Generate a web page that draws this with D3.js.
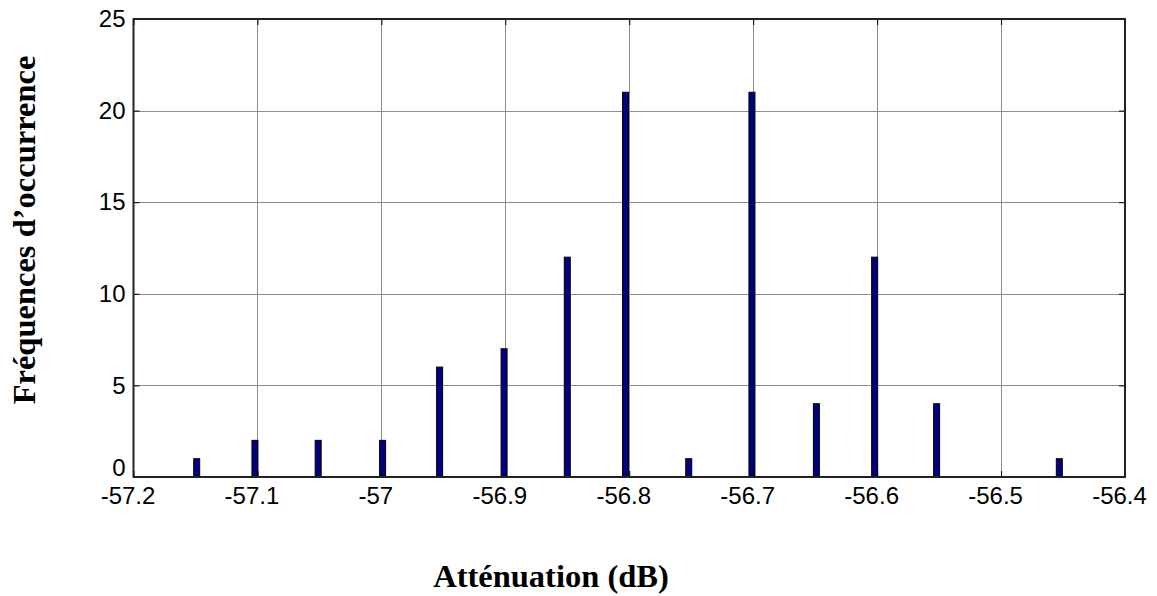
<!DOCTYPE html>
<html>
<head>
<meta charset="utf-8">
<script src="https://cdn.jsdelivr.net/npm/d3@7/dist/d3.min.js"></script>
<style>
  html, body { margin: 0; padding: 0; background: #fff; }
  svg { display: block; }
  .tick text { font-family: "Liberation Sans", Arial, sans-serif; font-size: 24px; fill: #000; }
  .title { font-family: "Liberation Serif", "Times New Roman", serif; font-weight: bold; font-size: 32.5px; fill: #000; }
</style>
</head>
<body>
<svg id="chart" width="1157" height="596"></svg>
<script>
// Histogram of attenuation values: bin centres (dB) and counts
const binCenters = [-57.149, -57.102, -57.051, -56.999, -56.953, -56.901, -56.850,
                    -56.803, -56.752, -56.701, -56.649, -56.602, -56.552, -56.453];
const counts     = [1, 2, 2, 2, 6, 7, 12, 21, 1, 21, 4, 12, 4, 1];
const xTicks = [-57.2, -57.1, -57, -56.9, -56.8, -56.7, -56.6, -56.5, -56.4];
const yTicks = [0, 5, 10, 15, 20, 25];

const svg = d3.select("#chart");
const plotL = 133.5, plotR = 1125, plotT = 19, plotB = 477;

const x = d3.scaleLinear().domain([-57.2, -56.4]).range([plotL, plotR]);
const y = d3.scaleLinear().domain([0, 25]).range([plotB, plotT]);

// grid
const grid = svg.append("g").attr("stroke", "#8c8c8c").attr("stroke-width", 1);
grid.selectAll("line.gx").data(xTicks.slice(1, -1)).join("line")
  .attr("x1", d => Math.round(x(d)) + 0.5).attr("x2", d => Math.round(x(d)) + 0.5)
  .attr("y1", plotT).attr("y2", plotB);
grid.selectAll("line.gy").data(yTicks.slice(1, -1)).join("line")
  .attr("y1", d => Math.round(y(d)) + 0.5).attr("y2", d => Math.round(y(d)) + 0.5)
  .attr("x1", plotL).attr("x2", plotR);

// bars
const barW = 6;
svg.append("g").selectAll("rect").data(binCenters).join("rect")
  .attr("x", (d) => x(d) - barW / 2)
  .attr("width", barW)
  .attr("y", (d, i) => y(counts[i]))
  .attr("height", (d, i) => y(0) - y(counts[i]))
  .attr("fill", "#000080")
  .attr("stroke", "#000")
  .attr("stroke-width", 1);

// axes
const xAxis = d3.axisBottom(x).tickValues(xTicks).tickFormat(d => String(d)).tickSize(-6).tickPadding(12);
const gx = svg.append("g").attr("transform", `translate(0,${plotB})`).call(xAxis);
gx.select(".domain").remove();
gx.selectAll(".tick line").attr("stroke", "#000");
gx.selectAll(".tick text").attr("dx", -6).attr("dy", "0.62em");

const xAxisTop = d3.axisTop(x).tickValues(xTicks).tickSize(-6).tickFormat("");
const gxt = svg.append("g").attr("transform", `translate(0,${plotT})`).call(xAxisTop);
gxt.select(".domain").remove();
gxt.selectAll(".tick line").attr("stroke", "#000");

const yAxis = d3.axisLeft(y).tickValues(yTicks).tickSize(-6).tickPadding(8);
const gy = svg.append("g").attr("transform", `translate(${plotL},0)`).call(yAxis);
gy.select(".domain").remove();
gy.selectAll(".tick line").attr("stroke", "#000");
gy.selectAll(".tick text").attr("dy", (d) => d === 0 ? "-0.05em" : "0.32em");

const yAxisRight = d3.axisRight(y).tickValues(yTicks).tickSize(-6).tickFormat("");
const gyr = svg.append("g").attr("transform", `translate(${plotR},0)`).call(yAxisRight);
gyr.select(".domain").remove();
gyr.selectAll(".tick line").attr("stroke", "#000");

// frame
svg.append("rect")
  .attr("x", plotL).attr("y", plotT)
  .attr("width", plotR - plotL).attr("height", plotB - plotT)
  .attr("fill", "none").attr("stroke", "#222").attr("stroke-width", 2);

// titles
svg.append("text").attr("class", "title")
  .attr("x", 551).attr("y", 587).attr("text-anchor", "middle")
  .text("Atténuation (dB)");
svg.append("text").attr("class", "title")
  .attr("transform", "translate(35,230) rotate(-90)")
  .attr("text-anchor", "middle")
  .text("Fréquences d’occurrence");
</script>
</body>
</html>
